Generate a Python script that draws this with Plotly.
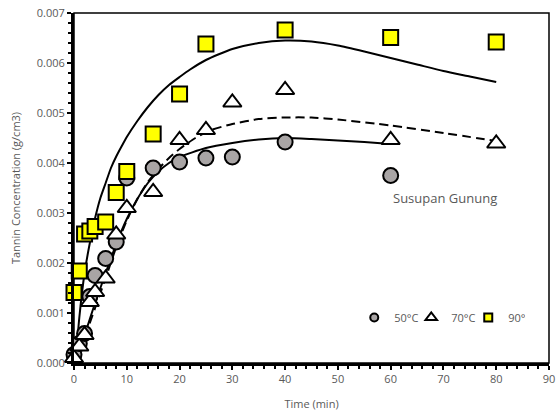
import plotly.graph_objects as go

# Measured data (time in min, tannin concentration in g/cm3)
t50 = [0, 1, 2, 3, 4, 6, 8, 10, 15, 20, 25, 30, 40, 60]
c50 = [0.00017, 0.00039, 0.00059, 0.00133, 0.00175, 0.00209, 0.00242, 0.0037, 0.0039, 0.00402, 0.0041, 0.00412, 0.00442, 0.00375]

t70 = [0, 1, 2, 3, 4, 6, 8, 10, 15, 20, 25, 30, 40, 60, 80]
c70 = [0.0001, 0.00033, 0.00056, 0.00122, 0.00142, 0.00169, 0.00257, 0.0031, 0.00342, 0.00446, 0.00466, 0.00521, 0.00546, 0.00446, 0.00439]

t90 = [0, 1, 2, 3, 4, 6, 8, 10, 15, 20, 25, 40, 60, 80]
c90 = [0.00141, 0.00184, 0.00258, 0.00264, 0.00273, 0.00282, 0.00341, 0.00383, 0.00458, 0.00538, 0.00638, 0.00666, 0.00651, 0.00642]

# Model (fitted) curves
fit50_t = [0.3, 1, 2, 3, 4, 6, 8, 10, 12, 14, 16, 18, 20, 25, 30, 35, 40, 45, 50, 55, 60]
fit50_c = [0.0, 0.00022, 0.00055, 0.00088, 0.0012, 0.0018, 0.00238, 0.00288, 0.00328, 0.0036, 0.00383, 0.004, 0.00412, 0.0043, 0.0044, 0.00447, 0.0045, 0.00448, 0.00445, 0.00442, 0.00438]

fit70_t = [0.3, 1, 2, 3, 4, 6, 8, 10, 12, 14, 16, 18, 20, 23, 26, 30, 35, 40, 45, 50, 60, 70, 80]
fit70_c = [0.0, 0.0002, 0.0005, 0.0008, 0.0011, 0.0017, 0.00232, 0.00285, 0.00328, 0.00362, 0.00388, 0.0041, 0.00428, 0.0045, 0.00466, 0.00478, 0.00488, 0.00491, 0.00491, 0.00487, 0.00475, 0.0046, 0.00444]

fit90_t = [0.3, 1, 2, 3, 4, 5, 6, 7, 8, 9, 10, 12, 14, 16, 18, 20, 22, 25, 30, 35, 40, 45, 50, 55, 60, 65, 70, 75, 80]
fit90_c = [0.0, 0.0009, 0.0018, 0.0024, 0.0029, 0.0033, 0.0036, 0.0039, 0.00413, 0.00433, 0.00452, 0.00484, 0.00512, 0.00536, 0.00556, 0.00572, 0.00587, 0.00606, 0.00628, 0.0064, 0.00645, 0.00643, 0.00635, 0.00623, 0.0061, 0.00597, 0.00584, 0.00573, 0.00562]

x_ticks = [0, 10, 20, 30, 40, 50, 60, 70, 80, 90]
y_ticks = [0.000, 0.001, 0.002, 0.003, 0.004, 0.005, 0.006, 0.007]

GRAY_TXT = "#595959"
FONT = "Open Sans"

fig = go.Figure()

# fitted curves
fig.add_trace(go.Scatter(x=fit50_t, y=fit50_c, mode="lines", showlegend=False,
                         line=dict(color="black", width=2, shape="spline", smoothing=0.6), hoverinfo="skip"))
fig.add_trace(go.Scatter(x=fit70_t, y=fit70_c, mode="lines", showlegend=False,
                         line=dict(color="black", width=2, dash="9px,5px", shape="spline", smoothing=0.6), hoverinfo="skip"))
fig.add_trace(go.Scatter(x=fit90_t, y=fit90_c, mode="lines", showlegend=False,
                         line=dict(color="black", width=2, shape="spline", smoothing=0.6), hoverinfo="skip"))

# data points
fig.add_trace(go.Scatter(x=t50, y=c50, mode="markers", showlegend=False, cliponaxis=False,
                         marker=dict(symbol="circle", size=15, color="#a9a5a5", line=dict(color="black", width=2))))
fig.add_trace(go.Scatter(x=t70, y=c70, mode="markers", showlegend=False, cliponaxis=False,
                         marker=dict(symbol="triangle-up", size=16, color="white", line=dict(color="black", width=2))))
fig.add_trace(go.Scatter(x=t90, y=c90, mode="markers", showlegend=False, cliponaxis=False,
                         marker=dict(symbol="square", size=15, color="#ffff00", line=dict(color="black", width=2))))

# legend entries
fig.add_trace(go.Scatter(x=[None], y=[None], mode="markers", name="50°C",
                         marker=dict(symbol="circle", size=8, color="#a9a5a5", line=dict(color="black", width=2))))
fig.add_trace(go.Scatter(x=[None], y=[None], mode="markers", name="70°C",
                         marker=dict(symbol="triangle-up", size=10, color="white", line=dict(color="black", width=2))))
fig.add_trace(go.Scatter(x=[None], y=[None], mode="markers", name="90°C",
                         marker=dict(symbol="square", size=8, color="#ffff00", line=dict(color="black", width=2))))

fig.add_annotation(x=70.2, y=0.00331, text="Susupan Gunung", showarrow=False,
                   font=dict(family=FONT, size=13, color=GRAY_TXT))

fig.add_shape(type="rect", xref="paper", yref="paper", x0=0, y0=0, x1=1, y1=1,
              line=dict(color="black", width=1.5), layer="below")

fig.update_layout(
    width=556, height=414,
    margin=dict(l=74, r=7, t=13, b=51, autoexpand=False),
    paper_bgcolor="white", plot_bgcolor="white",
    font=dict(family=FONT, size=11, color=GRAY_TXT),
    legend=dict(orientation="h", x=0.59, y=0.13, xanchor="left", yanchor="middle",
                bgcolor="rgba(0,0,0,0)", font=dict(family=FONT, size=11, color=GRAY_TXT),
                itemwidth=30, entrywidth=12, entrywidthmode="pixels"),
    xaxis=dict(range=[0, 90], tickvals=x_ticks, ticktext=[str(v) for v in x_ticks],
               showgrid=False, zeroline=False, showline=True, linecolor="black", linewidth=3,
               ticks="outside", ticklen=4, tickwidth=2, tickcolor="black",
               minor=dict(dtick=2, ticks="outside", ticklen=3, tickwidth=2, tickcolor="black"),
               ticklabeloverflow="allow",
               tickfont=dict(family=FONT, size=11, color=GRAY_TXT),
               title=dict(text="Time (min)", font=dict(family=FONT, size=11, color=GRAY_TXT), standoff=16)),
    yaxis=dict(range=[0, 0.007], tickvals=y_ticks, ticktext=[f"{v:.3f}" for v in y_ticks],
               showgrid=False, zeroline=False, showline=True, linecolor="black", linewidth=3,
               ticks="outside", ticklen=4, tickwidth=2, tickcolor="black",
               minor=dict(dtick=0.0002, ticks="outside", ticklen=3, tickwidth=2, tickcolor="black"),
               tickfont=dict(family=FONT, size=11, color=GRAY_TXT),
               title=dict(text="Tannin Concentration (g/cm3)", font=dict(family=FONT, size=11, color=GRAY_TXT), standoff=14)),
)

fig.write_html("out.html")
